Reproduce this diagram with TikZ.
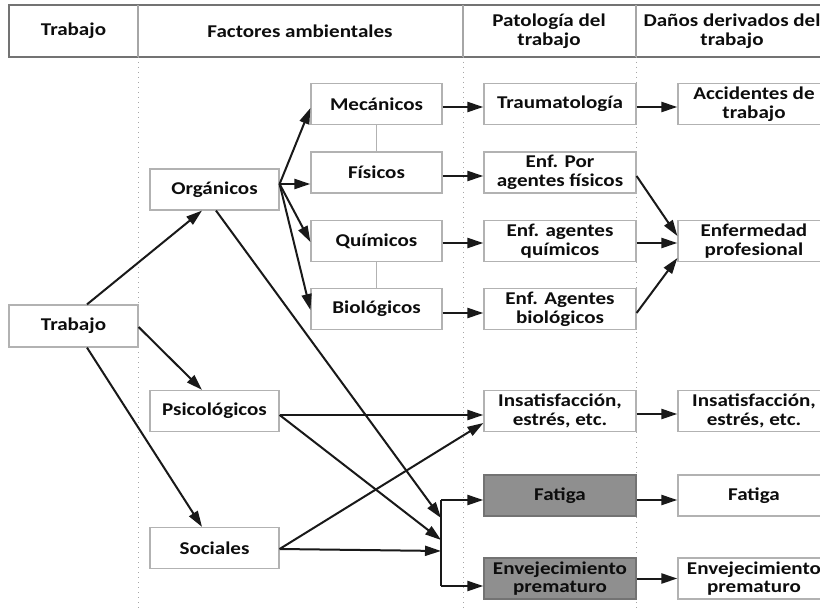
\documentclass[tikz,border=0pt]{standalone}
\usepackage{fontspec}
\setmainfont[FakeStretch=1.17]{Carlito}
\usetikzlibrary{arrows.meta,calc}
\begin{document}
\begin{tikzpicture}[x=0.5pt,y=-0.5pt,
  txt/.style={font=\fontsize{9}{9.3}\selectfont\bfseries, text=black!95, align=center},
  box/.style={txt, draw=black!30, line width=0.6pt, fill=white, minimum width=64.5pt, minimum height=20.5pt, inner sep=0pt},
  midbox/.style={box, minimum width=65.5pt},
  patbox/.style={box, minimum width=76pt},
  dkbox/.style={patbox, fill=black!44, draw=black!55},
  hdr/.style={txt},
  hline/.style={draw=black!55, line width=0.6pt},
  vsep/.style={draw=black!35, line width=0.5pt, dotted},
  link/.style={draw=black!30, line width=0.6pt},
  arr/.style={-{Triangle[length=8pt,width=5pt]}, line width=1pt, black!90}
]
\useasboundingbox (0,0) rectangle (820,610);
\clip (0,0) rectangle (820,610);
\fill[white] (0,0) rectangle (820,610);

% header
\draw[hline] (840,5) -- (9,5) -- (9,57) -- (840,57);
\draw[hline, draw=black!35] (138,5) -- (138,57);
\draw[hline, draw=black!35] (463,5) -- (463,57);
\draw[hline, draw=black!35] (636,5) -- (636,57);
\draw[vsep] (138,57) -- (138,610);
\draw[vsep] (463,57) -- (463,610);
\draw[vsep] (636,57) -- (636,610);
\node[hdr] (h1) at (73.5,31) {Trabajo};
\node[hdr] (h2) at (300,31) {Factores ambientales};
\node[hdr] (h3) at (549,31) {Patología del\\trabajo};
\node[hdr] (h4) at (732,31) {Daños derivados del\\trabajo};

% column 1
\node[box, minimum height=21pt] (tra) at (73.5,326) {Trabajo};
% column 2
\node[box] (org) at (214.5,189.5) {Orgánicos};
\node[box] (psi) at (214.5,411) {Psicológicos};
\node[box] (soc) at (214.5,548) {Sociales};
% column 2b
\node[midbox] (mec) at (376.5,104) {Mecánicos};
\node[midbox] (fis) at (376.5,172.5) {Físicos};
\node[midbox] (qui) at (376.5,241) {Químicos};
\node[midbox] (bio) at (376.5,309) {Biológicos};
% column 3
\node[patbox] (trau) at (560,104) {Traumatología};
\node[patbox] (efis) at (560,172.5) {Enf. Por\\agentes físicos};
\node[patbox] (equi) at (560,241) {Enf. agentes\\químicos};
\node[patbox] (ebio) at (560,309) {Enf. Agentes\\biológicos};
\node[patbox] (ins) at (560,411) {Insatisfacción,\\estrés, etc.};
\node[dkbox] (fat) at (560,495.5) {Fatiga};
\node[dkbox] (env) at (560,578.5) {Envejecimiento\\prematuro};
% column 4
\node[patbox] (acc) at (754,104) {Accidentes de\\trabajo};
\node[patbox] (enf) at (754,241) {Enfermedad\\profesional};
\node[patbox] (ins2) at (754,411) {Insatisfacción,\\estrés, etc.};
\node[patbox] (fat2) at (754,495.5) {Fatiga};
\node[patbox] (env2) at (754,578.5) {Envejecimiento\\prematuro};

% gray links
\draw[link] (mec.south) -- (fis.north);
\draw[link] (qui.south) -- (bio.north);

% helper coordinates
\coordinate (orgout) at ($(org.east)+(0,-5.5)$);
\coordinate (psiout) at ($(psi.east)+(0,4)$);
\coordinate (socout) at ($(soc.east)+(0,1)$);
\coordinate (jt) at (441,500);
\coordinate (jb) at (441,586);

% arrows from Trabajo
\draw[arr] ($(tra.north)+(13.5,0)$) -- ($(org.south)+(-12.5,0)$);
\draw[arr] ($(tra.east)+(0,1)$) -- ($(psi.north)+(-12.5,0)$);
\draw[arr] ($(tra.south)+(13.5,0)$) -- ($(soc.north)+(-12.5,0)$);

% arrows from Organicos
\draw[arr] (orgout) -- ($(mec.west)+(0,4)$);
\draw[arr] (orgout) -- (fis.west |- orgout);
\draw[arr] (orgout) -- ($(qui.west)+(0,1)$);
\draw[arr] (orgout) -- ($(bio.west)+(0,1)$);
\draw[arr] ($(org.south)+(1.5,0)$) -- ($(jt)+(0,18)$);

% psicologicos, sociales
\draw[arr] (psiout) -- (ins.west |- psiout);
\draw[arr] (psiout) -- ($(jt)+(0,40)$);
\draw[arr] (socout) -- ($(ins.west)+(0,12)$);
\draw[arr] (socout) -- ($(jt)+(0,51)$);

% junction
\draw[line width=1pt, black!90] (jt) -- (jb);
\draw[arr] (jt) -- (fat.west |- jt);
\draw[arr] (jb) -- (env.west |- jb);

% to pathology column
\draw[arr] ($(mec.east)+(0,3)$) -- ($(trau.west)+(0,3)$);
\draw[arr] ($(fis.east)+(0,3.5)$) -- ($(efis.west)+(0,3.5)$);
\draw[arr] ($(qui.east)+(0,2)$) -- ($(equi.west)+(0,2)$);
\draw[arr] ($(bio.east)+(0,4)$) -- ($(ebio.west)+(0,4)$);

% to damages column
\draw[arr] ($(trau.east)+(0,3)$) -- ($(acc.west)+(0,3)$);
\draw[arr] ($(efis.east)+(0,3.5)$) -- ($(enf.west)+(0,-5)$);
\draw[arr] ($(equi.east)+(0,2)$) -- ($(enf.west)+(0,2)$);
\draw[arr] ($(ebio.east)+(0,4)$) -- ($(enf.west)+(0,17)$);
\draw[arr] ($(ins.east)+(0,3)$) -- ($(ins2.west)+(0,3)$);
\draw[arr] ($(fat.east)+(0,4.5)$) -- ($(fat2.west)+(0,4.5)$);
\draw[arr] ($(env.east)+(0,0)$) -- ($(env2.west)+(0,0)$);
\end{tikzpicture}
\end{document}
